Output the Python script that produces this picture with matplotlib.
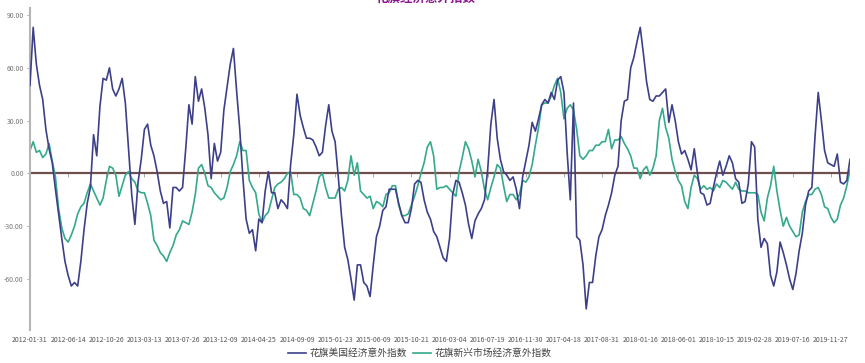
import numpy as np
import matplotlib
matplotlib.use("Agg")
from matplotlib import pyplot as plt

plt.rcParams['font.family'] = ['Noto Sans CJK SC', 'DejaVu Sans']

# x axis labels (one every 96 trading days)
tick_labels = ['2012-01-31', '2012-06-14', '2012-10-26', '2013-03-13', '2013-07-26',
               '2013-12-09', '2014-04-25', '2014-09-09', '2015-01-23', '2015-06-09',
               '2015-10-21', '2016-03-04', '2016-07-19', '2016-11-30', '2017-04-18',
               '2017-08-31', '2018-01-16', '2018-06-01', '2018-10-15', '2019-02-28',
               '2019-07-16', '2019-11-27']
label_every = 96
# values read every 8th trading day
sample_every = 8

us_surprise = [50, 83, 62, 50, 42, 25, 14, 6, -9, -23,
               -37, -50, -58, -64, -62, -64, -50, -32, -17, -8,
               22, 10, 38, 54, 53, 60, 48, 44, 48, 54,
               40, 14, -12, -29, -5, 8, 25, 28, 16, 10,
               1, -10, -17, -16, -31, -8, -8, -10, -8, 14,
               39, 28, 55, 41, 48, 37, 22, -3, 17, 7,
               12, 36, 49, 62, 71, 47, 25, -3, -26, -34,
               -32, -44, -26, -28, -10, 1, -11, -11, -20, -15,
               -17, -20, 5, 22, 45, 33, 26, 20, 20, 19,
               15, 10, 12, 27, 39, 24, 18, -2, -24, -42,
               -49, -60, -72, -52, -52, -62, -64, -70, -52, -36,
               -30, -21, -19, -9, -9, -9, -17, -24, -28, -28,
               -20, -6, -4, -5, -15, -22, -26, -33, -36, -42,
               -48, -50, -37, -12, -4, -5, -11, -18, -29, -37,
               -27, -23, -20, -15, 2, 28, 42, 20, 8, 1,
               -1, -4, -2, -9, -20, -2, 7, 16, 29, 24,
               31, 39, 42, 40, 46, 42, 53, 55, 46, 12,
               -15, 40, -36, -38, -52, -77, -62, -62, -47, -36,
               -32, -24, -18, -11, -1, 4, 30, 41, 42, 60,
               66, 75, 83, 68, 52, 42, 41, 44, 44, 46,
               48, 29, 39, 30, 18, 11, 13, 8, 2, 14,
               0, -11, -12, -18, -17, -8, 0, 7, -1, 4,
               10, 6, -3, -5, -17, -16, -6, 18, 15, -26,
               -42, -37, -40, -58, -64, -56, -39, -45, -52, -60,
               -66, -57, -44, -34, -18, -10, -8, 21, 46, 30,
               13, 6, 5, 4, 11, -5, -6, -4, 8]

em_surprise = [13, 18, 12, 13, 9, 11, 17, 7, -2, -20,
               -31, -37, -39, -35, -30, -23, -19, -17, -11, -6,
               -10, -14, -18, -14, -4, 4, 3, -1, -13, -7,
               -1, 1, -3, -5, -10, -11, -11, -17, -24, -38,
               -41, -45, -47, -50, -45, -41, -35, -32, -27, -28,
               -29, -22, -12, 3, 5, 0, -7, -8, -11, -13,
               -15, -14, -8, 1, 5, 10, 18, 13, 13, -4,
               -8, -11, -23, -28, -24, -22, -15, -8, -6, -5,
               -3, 0, 1, -12, -12, -14, -20, -21, -24, -17,
               -10, -2, 0, -8, -14, -14, -14, -9, -8, -10,
               -4, 10, -1, 6, -10, -12, -14, -13, -20, -16,
               -17, -19, -12, -11, -7, -7, -18, -24, -24, -23,
               -18, -13, -7, 0, 6, 15, 18, 10, -9, -8,
               -8, -7, -9, -11, -13, 1, 9, 18, 14, 7,
               -2, 8, 1, -9, -15, -8, -2, 5, 3, -7,
               -16, -12, -12, -15, -12, -4, -5, -2, 5, 16,
               26, 39, 40, 40, 44, 50, 54, 46, 31, 37,
               39, 36, 25, 10, 8, 10, 13, 13, 16, 16,
               18, 18, 25, 14, 19, 19, 21, 17, 14, 10,
               3, 3, -3, 2, 4, -1, 3, 10, 30, 37,
               26, 20, 8, 1, -4, -7, -16, -20, -8, -1,
               -3, -9, -7, -9, -8, -10, -6, -8, -4, -5,
               -7, -9, -5, -9, -10, -10, -11, -11, -11, -12,
               -22, -27, -14, -7, 4, -10, -21, -30, -25, -30,
               -33, -36, -35, -22, -16, -12, -12, -9, -8, -12,
               -19, -20, -25, -28, -26, -18, -14, -7, 2]

series_names = ['花旗美国经济意外指数', '花旗新兴市场经济意外指数']

W, H = 865, 363
fig = plt.figure(figsize=(W / 100, H / 100), dpi=100)
ax = fig.add_axes([30 / W, 1 - 330 / H, 820 / W, 322 / H])

x = np.arange(len(us_surprise)) * sample_every
ax.plot(x, us_surprise, color='#3d4089', lw=1.2, label=series_names[0], zorder=3)
ax.plot(x, em_surprise, color='#35a98c', lw=1.2, label=series_names[1], zorder=2)

ylo, yhi = -89, 94
ax.set_ylim(ylo, yhi)
ax.set_xlim(0, x[-1])

# zero line with small ticks at the label positions
ax.axhline(0, color='#6f4e4e', lw=1.6, zorder=1)
zero_ax = ax.secondary_xaxis((0 - ylo) / (yhi - ylo))
zero_ax.spines['bottom'].set_visible(False)
zero_ax.set_xticks(np.arange(len(tick_labels)) * label_every)
zero_ax.set_xticklabels([])
zero_ax.tick_params(axis='x', length=3, width=0.6, color='#999999')

ax.set_xticks(np.arange(len(tick_labels)) * label_every)
ax.set_xticklabels(tick_labels, fontsize=5, color='#555555')
ax.tick_params(axis='x', length=0, pad=4)

ax.set_yticks([90, 60, 30, 0, -30, -60])
ax.set_yticklabels([f'{v:.2f}' for v in [90, 60, 30, 0, -30, -60]],
                   fontsize=5, color='#777777')
ax.tick_params(axis='y', length=2.5, width=0.6, color='#999999', pad=2)

for side in ['top', 'right', 'bottom']:
    ax.spines[side].set_visible(False)
ax.spines['left'].set_color('#b5b5b5')
ax.spines['left'].set_linewidth(1.5)

fig.legend(loc='center', bbox_to_anchor=(420 / W, 1 - 353 / H), ncol=2,
           frameon=False, fontsize=7, handlelength=1.8, handletextpad=0.4,
           columnspacing=0.6, labelcolor='#444444')

# title, mostly cut off by the top edge as in the original
fig.text(426 / W, 1 - 4.5 / H, '花旗经济意外指数', ha='center', va='bottom',
         fontsize=9, fontweight='bold', color='#8e1590')

fig.savefig('out.png', dpi=100)
